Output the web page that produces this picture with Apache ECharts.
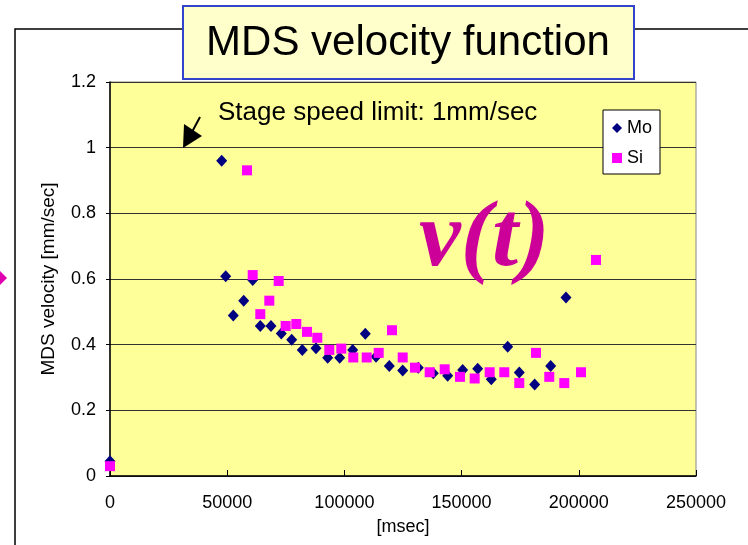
<!DOCTYPE html>
<html>
<head>
<meta charset="utf-8">
<script src="https://cdn.jsdelivr.net/npm/echarts@6/dist/echarts.min.js"></script>
<style>
  html, body { margin: 0; padding: 0; background: #fff; }
  #chart { width: 748px; height: 545px; }
</style>
</head>
<body>
<div id="chart"></div>
<script>
// time [msec] / velocity [mm/sec]
const moTime = [0, 47650, 49360, 52600, 57040, 60880, 64120, 68680, 73080, 77510, 82040, 87880, 92870, 97990,
  103540, 108910, 113480, 119150, 124870, 131520, 137920, 144060, 150460, 156860, 162660, 169660, 174610,
  181170, 188000, 194530];
const moVel = [0.045, 0.96, 0.608, 0.489, 0.534, 0.597, 0.457, 0.457, 0.434, 0.415, 0.384, 0.389, 0.36, 0.36,
  0.384, 0.433, 0.363, 0.335, 0.321, 0.33, 0.313, 0.305, 0.323, 0.327, 0.295, 0.394, 0.315,
  0.279, 0.335, 0.544];
const siTime = [0, 58440, 60880, 64120, 67960, 71970, 74950, 79480, 84040, 88430, 93550, 98670, 103790, 109510,
  114630, 120300, 124870, 130110, 136380, 142780, 149310, 155580, 161980, 168210, 174610, 181730, 187410,
  193810, 200930, 207330];
const siVel = [0.03, 0.931, 0.612, 0.493, 0.534, 0.594, 0.457, 0.463, 0.439, 0.421, 0.384, 0.388, 0.361, 0.361,
  0.375, 0.444, 0.361, 0.33, 0.316, 0.325, 0.302, 0.297, 0.316, 0.316, 0.283, 0.375, 0.302,
  0.283, 0.316, 0.658];

const FONT = '"Liberation Sans", Arial, sans-serif';

const chart = echarts.init(document.getElementById('chart'));

const option = {
  backgroundColor: '#fff',
  animation: false,
  textStyle: { fontFamily: FONT },
  grid: {
    left: 110, right: 52, top: 82, bottom: 69,
    show: true,
    backgroundColor: '#ffff99',
    borderColor: '#888',
    borderWidth: 1
  },
  legend: {
    orient: 'vertical',
    left: 603, top: 110,
    backgroundColor: '#fff',
    borderColor: '#000',
    borderWidth: 1,
    padding: [9, 8, 7, 9],
    itemWidth: 10, itemHeight: 10,
    itemGap: 12,
    textStyle: { fontSize: 18, lineHeight: 18, color: '#000', fontFamily: FONT },
    data: [
      { name: 'Mo', icon: 'diamond', itemStyle: { opacity: 1 } },
      { name: 'Si', icon: 'rect', itemStyle: { opacity: 1 } }
    ]
  },
  xAxis: {
    type: 'value',
    min: 0, max: 250000, interval: 50000,
    name: '[msec]',
    nameLocation: 'middle',
    nameGap: 42,
    nameTextStyle: { fontSize: 18, color: '#000', fontFamily: FONT },
    axisLine: { show: true, lineStyle: { color: '#000', width: 1.5 } },
    axisTick: { show: true, inside: true, length: 6, lineStyle: { color: '#000' } },
    axisLabel: { fontSize: 18, color: '#000', margin: 18, fontFamily: FONT,
      formatter: v => String(v) },
    splitLine: { show: false }
  },
  yAxis: {
    type: 'value',
    min: 0, max: 1.2, interval: 0.2,
    name: 'MDS velocity [mm/sec]',
    nameLocation: 'middle',
    nameGap: 52,
    nameTextStyle: { fontSize: 19, color: '#000', fontFamily: FONT },
    axisLine: { show: true, lineStyle: { color: '#000', width: 1.5 } },
    axisTick: { show: true, inside: false, length: 4, lineStyle: { color: '#000' } },
    axisLabel: { fontSize: 18, color: '#000', margin: 14, fontFamily: FONT },
    splitLine: { show: true, lineStyle: { color: '#333', width: 1 } }
  },
  series: [
    {
      name: 'Mo',
      type: 'scatter',
      symbol: 'diamond',
      symbolSize: [11, 12],
      itemStyle: { color: '#000080', opacity: 1 },
      data: moTime.map((t, i) => [t, moVel[i]])
    },
    {
      name: 'Si',
      type: 'scatter',
      symbol: 'rect',
      symbolSize: 10,
      itemStyle: { color: '#ff00ff', opacity: 1 },
      data: siTime.map((t, i) => [t, siVel[i]])
    }
  ],
  graphic: [
    // outer frame
    { type: 'polyline', z: 1, shape: { points: [[15, 545], [15, 29], [748, 29]] },
      style: { stroke: '#000', lineWidth: 1.5, fill: null } },
    // left magenta pointer
    { type: 'polygon', shape: { points: [[0, 271], [7, 278], [0, 285]] }, style: { fill: '#e000b0' } },
    // title box
    { type: 'rect', z: 10, shape: { x: 183, y: 6, width: 451, height: 73 },
      style: { fill: '#ffffcc', stroke: '#3344cc', lineWidth: 2 } },
    { type: 'text', z: 11, x: 408, y: 43,
      style: { text: 'MDS velocity function', fontSize: 42, fontFamily: FONT, fill: '#000',
        align: 'center', verticalAlign: 'middle' } },
    // stage speed annotation
    { type: 'text', z: 11, x: 218, y: 113,
      style: { text: 'Stage speed limit: 1mm/sec', fontSize: 26, fontFamily: FONT, fill: '#000',
        align: 'left', verticalAlign: 'middle' } },
    { type: 'line', z: 11, shape: { x1: 200, y1: 117, x2: 192, y2: 132 },
      style: { stroke: '#000', lineWidth: 2 } },
    { type: 'polygon', z: 11, shape: { points: [[184, 124], [202, 136], [183, 148]] },
      style: { fill: '#000' } },
    // v(t)
    { type: 'text', z: 11, x: 419, y: 241,
      style: { text: 'v(t)', fontSize: 94, fontStyle: 'italic', fontWeight: 'bold',
        fontFamily: '"Liberation Serif", "Times New Roman", serif', fill: '#cc0099',
        align: 'left', verticalAlign: 'middle' } }
  ]
};

chart.setOption(option);
</script>
</body>
</html>
